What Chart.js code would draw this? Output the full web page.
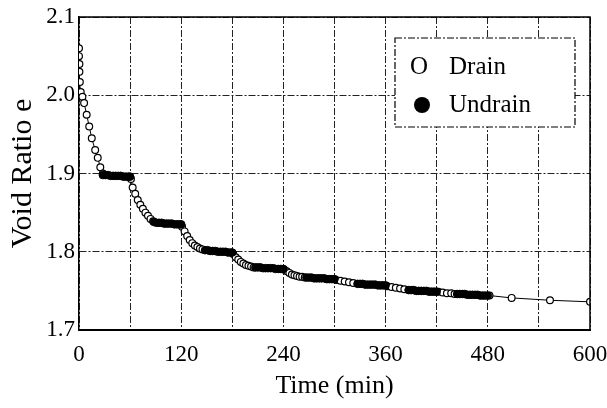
<!DOCTYPE html>
<html>
<head>
<meta charset="utf-8">
<script src="https://cdn.jsdelivr.net/npm/chart.js@4.4.1/dist/chart.umd.min.js"></script>
<style>
  body { margin: 0; background: #fff; }
  #wrap { width: 607px; height: 408px; }
</style>
</head>
<body>
<div id="wrap"><canvas id="voidChart" width="607" height="408"></canvas></div>
<script>
// Drain stages (open circles), time in minutes
const drainTime = [0, 0, 0.5, 0.5, 1, 2, 4, 6, 9, 12, 15, 19, 22, 25, 28,
    61, 63, 66, 69, 72, 75, 78, 81, 84, 87,
    121, 124, 127, 130, 133, 136, 139, 142, 145,
    181, 184, 187, 190, 193, 196, 199, 202, 205,
    241, 244, 247, 250, 253, 256, 259, 262, 265,
    302, 307, 312, 317, 322,
    362, 367, 372, 377, 382,
    422, 427, 432, 437, 441,
    482, 508, 553, 600];
const drainRatio = [2.06, 2.05, 2.04, 2.03, 2.017, 2.004, 1.998, 1.99, 1.975, 1.96, 1.945, 1.93, 1.92, 1.908, 1.9,
    1.893, 1.882, 1.874, 1.866, 1.86, 1.855, 1.85, 1.846, 1.842, 1.839,
    1.832, 1.826, 1.82, 1.815, 1.811, 1.808, 1.806, 1.804, 1.803,
    1.797, 1.793, 1.79, 1.787, 1.785, 1.783, 1.782, 1.781, 1.78,
    1.777, 1.775, 1.773, 1.771, 1.77, 1.769, 1.768, 1.768, 1.767,
    1.764, 1.763, 1.762, 1.761, 1.76,
    1.756, 1.755, 1.754, 1.753, 1.752,
    1.749, 1.748, 1.747, 1.747, 1.746,
    1.744, 1.741, 1.738, 1.736];

// Undrain stages (filled circles)
const undrainTime = [28, 31, 34, 37, 40, 43, 46, 49, 52, 55, 58, 60,
    88, 91, 94, 97, 100, 103, 106, 109, 112, 115, 118, 120,
    148, 151, 154, 157, 160, 163, 166, 169, 172, 175, 178, 180,
    207, 210, 213, 216, 219, 222, 225, 228, 231, 234, 237, 240,
    267, 270, 273, 276, 279, 282, 285, 288, 291, 294, 297, 300,
    327, 330, 333, 336, 339, 342, 345, 348, 351, 354, 357, 360,
    387, 390, 393, 396, 399, 402, 405, 408, 411, 414, 417, 420,
    444, 447, 450, 453, 456, 459, 462, 465, 468, 471, 474, 477, 480];
const undrainRatio = [1.898, 1.898, 1.898, 1.897, 1.897, 1.897, 1.897, 1.897, 1.896, 1.896, 1.896, 1.896,
    1.838, 1.837, 1.837, 1.837, 1.836, 1.836, 1.836, 1.836, 1.835, 1.835, 1.835, 1.835,
    1.802, 1.802, 1.801, 1.801, 1.801, 1.800, 1.800, 1.800, 1.800, 1.799, 1.799, 1.799,
    1.780, 1.780, 1.780, 1.779, 1.779, 1.779, 1.779, 1.779, 1.778, 1.778, 1.778, 1.778,
    1.767, 1.767, 1.767, 1.766, 1.766, 1.766, 1.766, 1.766, 1.765, 1.765, 1.765, 1.765,
    1.759, 1.759, 1.759, 1.758, 1.758, 1.758, 1.758, 1.758, 1.757, 1.757, 1.757, 1.757,
    1.751, 1.751, 1.751, 1.750, 1.750, 1.750, 1.750, 1.750, 1.749, 1.749, 1.749, 1.749,
    1.746, 1.746, 1.746, 1.746, 1.745, 1.745, 1.745, 1.745, 1.745, 1.744, 1.744, 1.744, 1.744];

const xTickLabels = ["0", "120", "240", "360", "480", "600"];
const legendLabels = ["Drain", "Undrain"];

const serif = "'Liberation Serif', 'Times New Roman', serif";
Chart.defaults.font.family = serif;
Chart.defaults.color = "#000";

// solid frame on top/right and the legend box inside the plot
const framePlugin = {
    id: "frameAndLegend",
    afterDraw(chart) {
        const { ctx, chartArea: a } = chart;
        ctx.save();
        ctx.strokeStyle = "#000";
        ctx.lineWidth = 1.5;
        ctx.setLineDash([]);
        ctx.beginPath();
        ctx.moveTo(a.left, a.top);
        ctx.lineTo(a.right, a.top);
        ctx.lineTo(a.right, a.bottom);
        ctx.stroke();

        // legend
        const bx = 395, by = 38, bw = 180, bh = 89;
        ctx.fillStyle = "#fff";
        ctx.fillRect(bx, by, bw, bh);
        ctx.lineWidth = 1.2;
        ctx.setLineDash([7, 2, 2, 2]);
        ctx.strokeRect(bx, by, bw, bh);
        ctx.setLineDash([]);
        ctx.fillStyle = "#000";
        ctx.font = "25px " + serif;
        ctx.textBaseline = "middle";
        ctx.textAlign = "center";
        ctx.fillText("O", 419, 67);
        ctx.beginPath();
        ctx.arc(422, 105, 8, 0, Math.PI * 2);
        ctx.fill();
        ctx.textAlign = "left";
        ctx.fillText(legendLabels[0], 449, 67);
        ctx.fillText(legendLabels[1], 449, 105);
        ctx.restore();
    }
};

const ctx = document.getElementById("voidChart").getContext("2d");
new Chart(ctx, {
    type: "scatter",
    data: {
        datasets: [
            {
                label: "Undrain",
                data: undrainTime.map((t, i) => ({ x: t, y: undrainRatio[i] })),
                pointRadius: 3.8,
                pointBackgroundColor: "#000",
                pointBorderColor: "#000",
                pointBorderWidth: 1,
                showLine: false,
                order: 1
            },
            {
                label: "Drain",
                data: drainTime.map((t, i) => ({ x: t, y: drainRatio[i] })),
                showLine: true,
                borderColor: "#000",
                borderWidth: 1,
                pointRadius: 3.4,
                pointBackgroundColor: "#fff",
                pointBorderColor: "#000",
                pointBorderWidth: 1.2,
                order: 2
            }
        ]
    },
    options: {
        responsive: false,
        animation: false,
        layout: { padding: { left: 0, right: 17, top: 17, bottom: 0 } },
        plugins: {
            legend: { display: false },
            tooltip: { enabled: false }
        },
        scales: {
            x: {
                type: "linear",
                min: 0,
                max: 600,
                afterFit: (scale) => {
                    scale.height = 78;
                    scale.paddingLeft = 0;
                    scale.paddingRight = 0;
                },
                ticks: {
                    stepSize: 60,
                    padding: 11,
                    font: { size: 23 },
                    callback: (v) => (v % 120 === 0 ? xTickLabels[v / 120] : "")
                },
                grid: { color: "#222", lineWidth: 1, drawTicks: false },
                border: { color: "#000", width: 2, dash: [7, 2, 2, 2] },
                title: {
                    display: true,
                    text: "Time (min)",
                    font: { size: 26 },
                    padding: { top: 0, bottom: 6 }
                }
            },
            y: {
                type: "linear",
                min: 1.7,
                max: 2.1,
                afterFit: (scale) => {
                    scale.width = 79;
                    scale.paddingTop = 0;
                    scale.paddingBottom = 0;
                },
                ticks: {
                    stepSize: 0.1,
                    padding: 4,
                    font: { size: 23 },
                    callback: (v) => v.toFixed(1)
                },
                grid: { color: "#222", lineWidth: 1, drawTicks: false },
                border: { color: "#000", width: 1.5, dash: [7, 2, 2, 2] },
                title: {
                    display: true,
                    text: "Void Ratio e",
                    font: { size: 30 },
                    padding: { top: 5, bottom: 0 }
                }
            }
        }
    },
    plugins: [framePlugin]
});
</script>
</body>
</html>
